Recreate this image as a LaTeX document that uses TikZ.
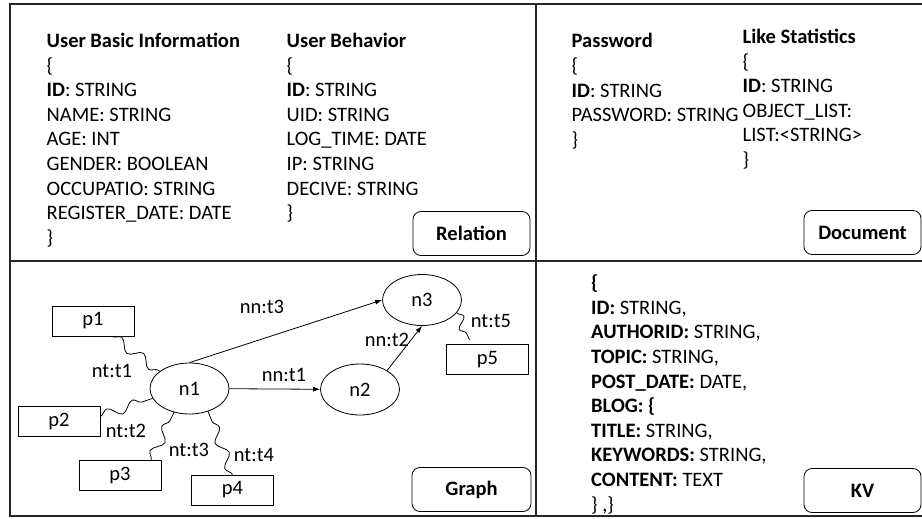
\documentclass[tikz,border=0pt]{standalone}
\usepackage{fontspec}
\setmainfont{Carlito}
\usetikzlibrary{shapes.geometric,arrows.meta,decorations.pathmorphing}
\newcommand\tlines[1]{\vtop{\halign{##\hfil\cr#1\crcr}}}
\begin{document}
\begin{tikzpicture}[x=1pt,y=-1pt,
  every node/.style={font=\fontsize{20.5}{24.6}\selectfont},
  frame/.style={line width=1.3pt, draw=black!85},
  txt/.style={anchor=base west, inner sep=0pt},
  lbl/.style={draw, rounded corners=8pt, minimum width=117pt, minimum height=44pt, inner sep=0pt, font=\fontsize{20.5}{24}\selectfont\bfseries, line width=0.8pt},
  gnode/.style={ellipse, draw, minimum width=79pt, minimum height=51pt, inner sep=0pt, line width=0.8pt},
  pbox/.style={rectangle, draw, minimum width=82pt, minimum height=30pt, inner sep=0pt, line width=0.8pt},
  arr/.style={-{Latex[length=7pt,width=5pt]}, line width=0.8pt},
  wig/.style={decorate, decoration={snake, segment length=27pt, amplitude=5pt}, line width=0.8pt},
  elab/.style={inner sep=0pt}]
\useasboundingbox (0,0) rectangle (922,519);
\begin{scope}
\clip (0,0) rectangle (922,519);
\draw[frame] (10,4) rectangle (930,516);
\draw[frame] (536,4) -- (536,516);
\draw[frame] (10,261) -- (930,261);
\end{scope}

% Relation quadrant
\node[txt] (ubi) at (46.5,47.5) {\tlines{\textbf{User Basic Information}\cr
\{\cr
\textbf{ID}: STRING\cr
NAME: STRING\cr
AGE: INT\cr
GENDER: BOOLEAN\cr
OCCUPATIO: STRING\cr
REGISTER\_DATE: DATE\cr
\}}};
\node[txt] (ub) at (286.5,47.5) {\tlines{\textbf{User Behavior}\cr
\{\cr
\textbf{ID}: STRING\cr
UID: STRING\cr
LOG\_TIME: DATE\cr
IP: STRING\cr
DECIVE: STRING\cr
\}}};
\node[lbl] (rel) at (471.5,233.5) {Relation};

% Document quadrant
\node[txt] (pw) at (571.5,48) {\tlines{\textbf{Password}\cr
\{\cr
\textbf{ID}: STRING\cr
PASSWORD: STRING\cr
\}}};
\node[txt] (ls) at (742.5,43.5) {\tlines{\textbf{Like Statistics}\cr
\{\cr
\textbf{ID}: STRING\cr
OBJECT\_LIST:\cr
LIST:<STRING>\cr
\}}};
\node[lbl] (doc) at (862.5,232.5) {Document};

% Graph quadrant
\node[gnode] (n1) at (189.5,388.5) {n1};
\node[gnode] (n2) at (360,389.5) {n2};
\node[gnode] (n3) at (422,300) {n3};
\node[pbox] (p1) at (93,321) {p1};
\node[pbox] (p2) at (59,421.5) {p2};
\node[pbox] (p3) at (120,475.7) {p3};
\node[pbox] (p4) at (232.5,490) {p4};
\node[pbox] (p5) at (487.5,359.2) {p5};

\draw[arr] (n1) -- (n2);
\draw[arr] (n1.north) -- (n3.west);
\draw[arr] (n2.35) -- (n3.south);

\draw[wig] ([xshift=19pt]p1.south) -- (n1.150);
\draw[wig] (p2.7) -- (n1.195);
\draw[wig] ([xshift=31pt]p3.north) -- (n1.237);
\draw[wig] (p4.north) -- (n1.-51);
\coordinate (c5) at ([xshift=-18pt,yshift=4pt]p5.north);
\draw[wig, decoration={segment length=20pt, amplitude=5pt}] (n3.-20) -- (c5);

\node[elab] (l1) at (262,307) {nn:t3};
\node[elab] (l2) at (284,375) {nn:t1};
\node[elab] (l3) at (387,340) {nn:t2};
\node[elab] (l4) at (112,371) {nt:t1};
\node[elab] (l5) at (126,431) {nt:t2};
\node[elab] (l6) at (189,450) {nt:t3};
\node[elab] (l7) at (254,455) {nt:t4};
\node[elab] (l8) at (491,321) {nt:t5};
\node[lbl, minimum width=119pt] (gr) at (471.5,489.5) {Graph};

% KV quadrant
\node[txt] (kv) at (591,289.7) {\tlines{\textbf{\{}\cr
\textbf{ID:} STRING,\cr
\textbf{AUTHORID:} STRING,\cr
\textbf{TOPIC:} STRING,\cr
\textbf{POST\_DATE:} DATE,\cr
\textbf{BLOG: \{}\cr
\textbf{TITLE:} STRING,\cr
\textbf{KEYWORDS:} STRING,\cr
\textbf{CONTENT:} TEXT\cr
\} ,\}}};
\node[lbl] (kvl) at (862.5,490.5) {KV};
\end{tikzpicture}
\end{document}
